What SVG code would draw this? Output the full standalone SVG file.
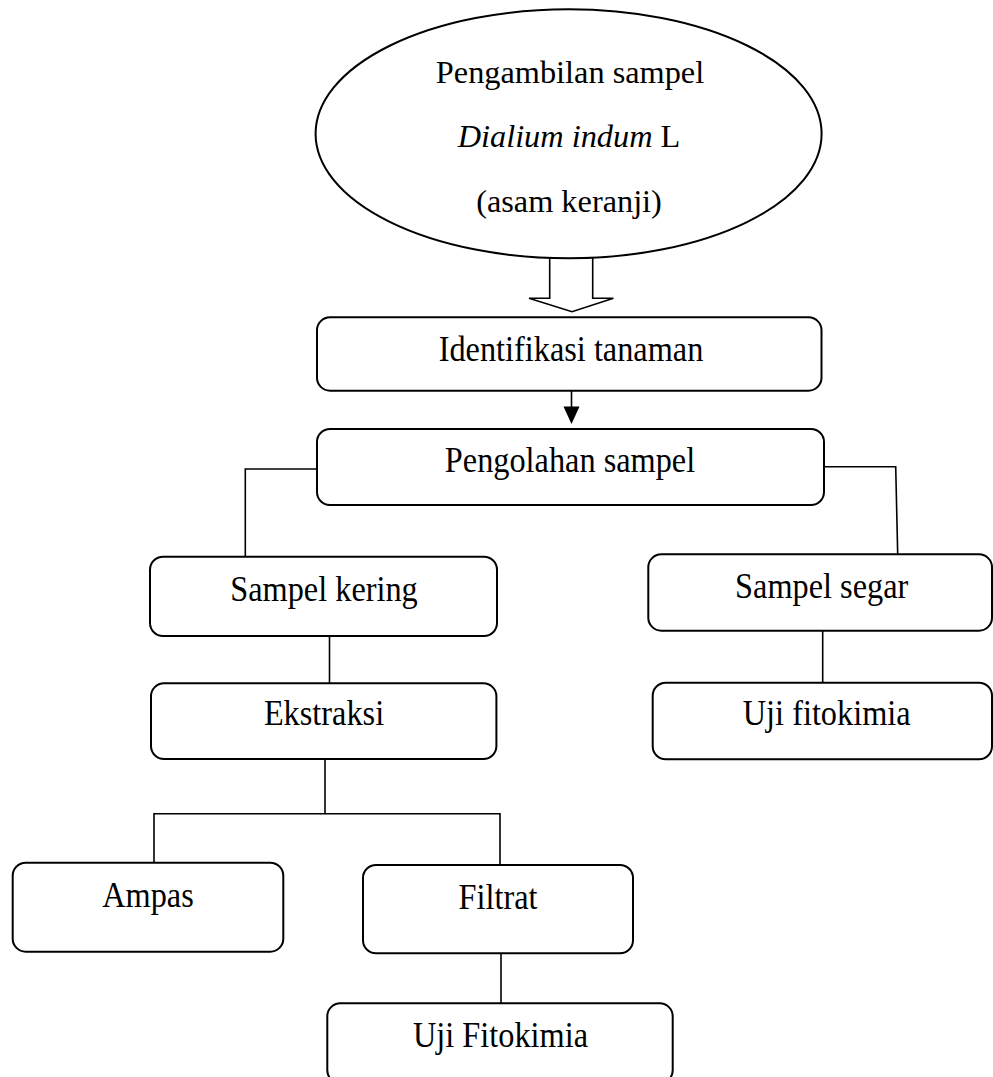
<svg xmlns="http://www.w3.org/2000/svg" width="993" height="1077" viewBox="0 0 993 1077">
<style>
  .box { fill: #ffffff; stroke: #000000; stroke-width: 2; }
  .conn { fill: none; stroke: #000000; stroke-width: 1.6; }
  .lbl { font-family: "Liberation Serif", "Times New Roman", serif; font-size: 32px; fill: #000000; text-anchor: middle; }
</style>
<rect width="993" height="1077" fill="#ffffff"/>

<g id="connectors">
  <!-- hollow arrow from ellipse to Identifikasi -->
  <path d="M549.7,258 L549.7,298.3 L529,298.3 L572,311.7 L613.4,298.3 L592.7,298.3 L592.7,258" fill="#ffffff" stroke="#000000" stroke-width="1.6"/>
  <!-- Identifikasi to Pengolahan -->
  <line class="conn" x1="571.5" y1="391" x2="571.5" y2="407"/>
  <path d="M563.5,406.5 L579.5,406.5 L571.5,424 Z" fill="#000000"/>
  <!-- Pengolahan to Sampel kering -->
  <polyline class="conn" points="317,469 245.3,469 245.3,556.7"/>
  <!-- Pengolahan to Sampel segar -->
  <polyline class="conn" points="824,466.7 895.7,466.7 897.7,554.3"/>
  <!-- Sampel kering to Ekstraksi -->
  <line class="conn" x1="329.5" y1="636" x2="329.5" y2="683.3"/>
  <!-- Sampel segar to Uji fitokimia -->
  <line class="conn" x1="822.7" y1="630.7" x2="822.7" y2="682.7"/>
  <!-- Ekstraksi to Ampas / Filtrat -->
  <line class="conn" x1="325" y1="759" x2="325" y2="813.7"/>
  <polyline class="conn" points="154,862.7 154,813.7 500,813.7 500,865"/>
  <!-- Filtrat to Uji Fitokimia -->
  <line class="conn" x1="501" y1="953.3" x2="501" y2="1003.3"/>
</g>

<g id="node-pengambilan">
  <ellipse class="box" cx="568.6" cy="133.8" rx="253" ry="124.5"/>
  <text class="lbl" transform="translate(570,83) scale(1.01,1)">Pengambilan sampel</text>
  <text class="lbl" transform="translate(569,147) scale(1.01,1)"><tspan font-style="italic">Dialium indum</tspan> L</text>
  <text class="lbl" transform="translate(569,212) scale(1.01,1)">(asam keranji)</text>
</g>

<g id="node-identifikasi">
  <rect class="box" x="317" y="317.3" width="504.5" height="73.4" rx="13"/>
  <text class="lbl" transform="translate(571,361) scale(1.01,1.1)">Identifikasi tanaman</text>
</g>

<g id="node-pengolahan">
  <rect class="box" x="317" y="429" width="507" height="76" rx="13"/>
  <text class="lbl" transform="translate(570,472) scale(1.01,1.1)">Pengolahan sampel</text>
</g>

<g id="node-sampel-kering">
  <rect class="box" x="150" y="556.7" width="347" height="79.3" rx="13"/>
  <text class="lbl" transform="translate(324,601) scale(1.01,1.1)">Sampel kering</text>
</g>

<g id="node-sampel-segar">
  <rect class="box" x="648.3" y="554.3" width="343.7" height="76.4" rx="13"/>
  <text class="lbl" transform="translate(821.7,598.3) scale(1.01,1.1)">Sampel segar</text>
</g>

<g id="node-ekstraksi">
  <rect class="box" x="151" y="683.3" width="345.4" height="75.7" rx="13"/>
  <text class="lbl" transform="translate(324,725) scale(1.01,1.1)">Ekstraksi</text>
</g>

<g id="node-uji-fitokimia-segar">
  <rect class="box" x="652.7" y="682.7" width="339.3" height="76.6" rx="13"/>
  <text class="lbl" transform="translate(826.7,725) scale(1.01,1.1)">Uji fitokimia</text>
</g>

<g id="node-ampas">
  <rect class="box" x="12.7" y="862.7" width="270.6" height="89" rx="13"/>
  <text class="lbl" transform="translate(148,906.7) scale(1.01,1.1)">Ampas</text>
</g>

<g id="node-filtrat">
  <rect class="box" x="363" y="865" width="270" height="88.3" rx="13"/>
  <text class="lbl" transform="translate(498,909.3) scale(1.01,1.1)">Filtrat</text>
</g>

<g id="node-uji-fitokimia">
  <rect class="box" x="327.3" y="1003.3" width="345.4" height="80" rx="13"/>
  <text class="lbl" transform="translate(500.5,1046.7) scale(1.01,1.1)">Uji Fitokimia</text>
</g>
</svg>
